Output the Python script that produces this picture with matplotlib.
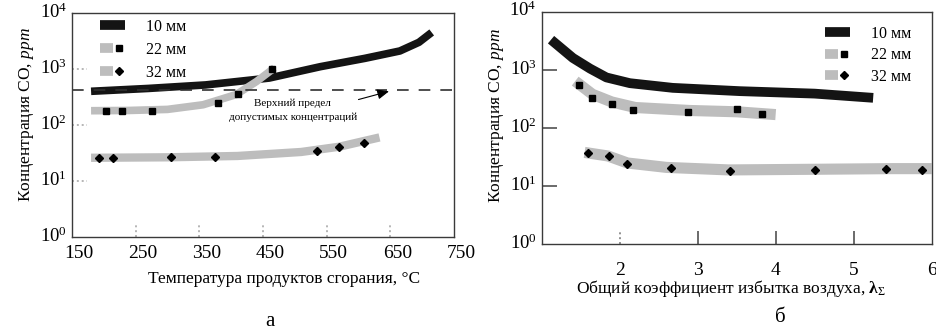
import matplotlib
matplotlib.use("Agg")
import matplotlib.pyplot as plt
import matplotlib.transforms as mtransforms
from matplotlib.lines import Line2D
from matplotlib.legend_handler import HandlerTuple

plt.rcParams["font.family"] = ["Liberation Serif", "DejaVu Serif"]
plt.rcParams["mathtext.fontset"] = "custom"
plt.rcParams["mathtext.rm"] = "Liberation Serif"
plt.rcParams["mathtext.it"] = "Liberation Serif:italic"
plt.rcParams["mathtext.bf"] = "Liberation Serif:bold"

# ---- data: panel a (temperature) ----
band10_t = [180, 270, 360, 460, 540, 610, 665, 695, 715]
band10_a = [400, 450, 520, 690, 1100, 1550, 2100, 3000, 4500]

band22_t = [180, 240, 300, 356, 408, 440, 468]
band22_a = [180, 182, 190, 230, 350, 600, 1050]
pts22_t = [203, 229, 275, 379, 411, 464]
pts22_a = [175, 181, 175, 252, 357, 995]

band32_t = [180, 300, 410, 510, 570, 633]
band32_a = [26, 26.5, 28, 33, 41, 60]
pts32_t = [193, 214, 305, 374, 535, 570, 609]
pts32_a = [26.2, 26.2, 26.9, 26.9, 34.4, 41.1, 48.4]

limit_co = 420
xticks_a = [150, 250, 350, 450, 550, 650, 750]

# ---- data: panel б (excess air ratio) ----
band10_l = [1.12, 1.4, 1.62, 1.83, 2.13, 2.68, 3.54, 4.5, 5.25]
band10_b = [3300, 1600, 1050, 740, 590, 490, 430, 390, 330]

band22_l = [1.43, 1.65, 1.9, 2.2, 2.9, 3.5, 4.0]
band22_b = [640, 380, 280, 225, 200, 190, 170]
pts22_l = [1.48, 1.64, 1.90, 2.17, 2.87, 3.50, 3.83]
pts22_b = [550, 324, 259, 204, 188, 210, 172]

band32_l = [1.55, 1.85, 2.1, 2.6, 3.4, 4.5, 5.5, 6.0]
band32_b = [38, 33, 25, 21, 19, 19.5, 20, 20]
pts32_l = [1.60, 1.86, 2.10, 2.66, 3.41, 4.51, 5.41, 5.87]
pts32_b = [36.7, 33.2, 24.0, 20.3, 18.5, 19.0, 19.7, 19.0]

xticks_b = [2, 3, 4, 5, 6]
yticks = [1, 10, 100, 1000, 10000]
labels = ["10 мм", "22 мм", "32 мм"]

BLACK = "#141414"
GRAY = "#bdbdbd"

fig = plt.figure(figsize=(9.37, 3.32), dpi=100)
ax1 = fig.add_axes([0.0768, 0.2861, 0.4077, 0.6747])
ax2 = fig.add_axes([0.5781, 0.2642, 0.4162, 0.7006])


def style_axes(ax):
    ax.set_yscale("log")
    ax.set_ylim(1, 1e4)
    ax.set_yticks(yticks)
    ax.minorticks_off()
    for sp in ax.spines.values():
        sp.set_color("#3a3a3a")
        sp.set_linewidth(1.0)
    ax.tick_params(axis="both", length=0)
    ax.tick_params(axis="x", labelsize=14)
    ax.tick_params(axis="y", labelsize=13.5)


def inner_ticks(ax, xt, yt, xlen, ylen, color, dashes):
    # short tick marks drawn inside the frame
    for x in xt:
        ax.axvline(x, 0, xlen, color=color, lw=1.4, dashes=dashes, zorder=1)
    for y in yt:
        ax.axhline(y, 0, ylen, color=color, lw=1.4, dashes=dashes, zorder=1)


def shift_labels(labs, dx, dy):
    off = mtransforms.ScaledTranslation(dx / 100, dy / 100, fig.dpi_scale_trans)
    for lab in labs:
        lab.set_transform(lab.get_transform() + off)


def legend(ax, lw, anchor, spacing):
    h10 = Line2D([], [], color=BLACK, lw=lw, solid_capstyle="butt")
    h22 = (Line2D([], [], color=GRAY, lw=lw, solid_capstyle="butt"),
           Line2D([], [], ls="none", marker="s", ms=4.5, color="black"))
    h32 = (Line2D([], [], color=GRAY, lw=lw, solid_capstyle="butt"),
           Line2D([], [], ls="none", marker="D", ms=4, color="black"))
    ax.legend([h10, h22, h32], labels, handler_map={tuple: HandlerTuple(ndivide=None)},
              loc="upper left", bbox_to_anchor=anchor, frameon=False, fontsize=11.5,
              handlelength=1.6, handletextpad=1.3, labelspacing=spacing,
              borderpad=0, borderaxespad=0)


# ------------------------------
# panel a
# ------------------------------
style_axes(ax1)
ax1.set_xlim(150, 750)
ax1.set_xticks(xticks_a)
ax1.tick_params(axis="x", pad=6)
inner_ticks(ax1, xticks_a[1:-1], yticks[1:-1], 0.06, 0.04, "#b5b5b5", (1, 1.5))

ax1.plot(band32_t, band32_a, color=GRAY, lw=6, solid_capstyle="butt", solid_joinstyle="round")
ax1.plot(pts32_t, pts32_a, ls="none", marker="D", ms=4, color="black")
ax1.plot(band10_t, band10_a, color=BLACK, lw=5.5, solid_capstyle="butt", solid_joinstyle="round")
ax1.plot(band22_t, band22_a, color=GRAY, lw=5.5, solid_capstyle="butt", solid_joinstyle="round")
ax1.plot(pts22_t, pts22_a, ls="none", marker="s", ms=4.5, color="black")
ax1.axhline(limit_co, color="#303030", lw=1.2, dashes=(7, 6))

ax1.text(497, 184, "Верхний предел\nдопустимых концентраций", ha="center", va="center",
         fontsize=8, linespacing=1.5)
ax1.annotate("", xy=(648, 400), xytext=(600, 285),
             arrowprops=dict(arrowstyle="-|>,head_length=0.7,head_width=0.3",
                             color="black", lw=0.8, shrinkA=0, shrinkB=0))

ax1.set_xlabel("Температура продуктов сгорания, °С", fontsize=12.5)
ax1.xaxis.set_label_coords(0.555, -0.15)
ax1.set_ylabel(r"Концентрация CO, $\mathit{ppm}$", fontsize=12.5)
ax1.yaxis.set_label_coords(-0.095, 0.545)
legend(ax1, 7, (0.073, 0.975), 0.45)
shift_labels(ax1.get_xticklabels(), 7, 0)
shift_labels(ax1.get_yticklabels(), 0, 3)

# ------------------------------
# panel б
# ------------------------------
style_axes(ax2)
ax2.set_xlim(1, 6)
ax2.set_xticks(xticks_b)
ax2.tick_params(axis="x", pad=13)
inner_ticks(ax2, xticks_b[1:-1], yticks[1:-1], 0.056, 0.04, "#6a6a6a", (20, 0.01))
inner_ticks(ax2, xticks_b[:1], [], 0.056, 0.04, "#909090", (1, 1.5))

ax2.plot(band32_l, band32_b, color=GRAY, lw=8, solid_capstyle="butt", solid_joinstyle="round")
ax2.plot(pts32_l, pts32_b, ls="none", marker="D", ms=4, color="black")
ax2.plot(band22_l, band22_b, color=GRAY, lw=8, solid_capstyle="butt", solid_joinstyle="round")
ax2.plot(pts22_l, pts22_b, ls="none", marker="s", ms=4.5, color="black")
ax2.plot(band10_l, band10_b, color=BLACK, lw=7, solid_capstyle="butt", solid_joinstyle="round")

ax2.set_xlabel(r"Общий коэффициент избытка воздуха, $\mathbf{\lambda}_{\Sigma}$", fontsize=12.5)
ax2.xaxis.set_label_coords(0.485, -0.145)
ax2.set_ylabel(r"Концентрация CO, $\mathit{ppm}$", fontsize=12.5)
ax2.yaxis.set_label_coords(-0.092, 0.552)
legend(ax2, 7, (0.726, 0.94), 0.35)
shift_labels(ax2.get_yticklabels(), 0, 3)

fig.text(270 / 937, 1 - 322 / 332, "а", ha="center", va="center", fontsize=15)
fig.text(780 / 937, 1 - 318 / 332, "б", ha="center", va="center", fontsize=15)

fig.savefig("out.png", dpi=100)
